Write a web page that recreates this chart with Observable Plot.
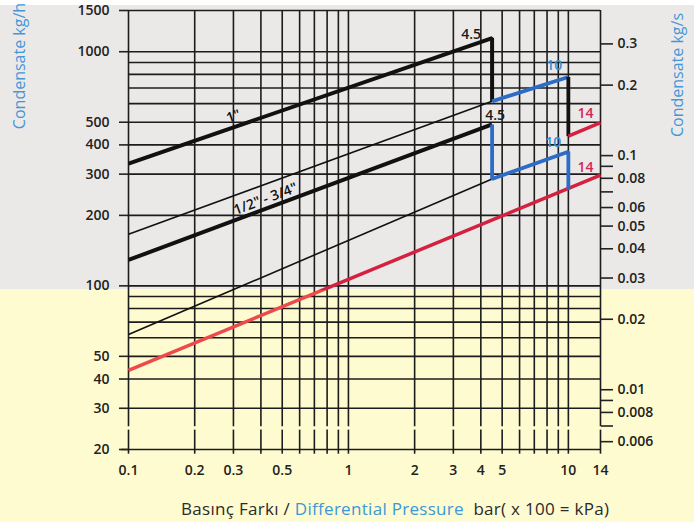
<!DOCTYPE html>
<html>
<head>
<meta charset="utf-8">
<script src="https://cdn.jsdelivr.net/npm/d3@7"></script>
<script src="https://cdn.jsdelivr.net/npm/@observablehq/plot@0.6"></script>
<style>
  html, body { margin: 0; padding: 0; }
  body {
    width: 694px; height: 522px; overflow: hidden; position: relative;
    background: linear-gradient(to bottom, #ffffff 0px, #ffffff 5px, #ebe9e8 5px, #ebe9e8 289px, #fefbd0 289px, #fefbd0 100%);
    font-family: "Open Sans", sans-serif;
  }
  #chart { position: absolute; left: 0; top: 0; }
  #caption {
    position: absolute; left: 181px; top: 497px; white-space: pre;
    font-size: 17px; letter-spacing: 0.3px; line-height: 24px; color: #2b2b2b;
  }
  .blue { color: #3a98d8; }
  .ytitle {
    position: absolute; width: 200px; height: 22px; line-height: 22px; text-align: center;
    font-size: 16px; color: #4596d6; transform: rotate(-90deg); transform-origin: 50% 50%; white-space: nowrap;
  }
</style>
</head>
<body>
<div id="chart"></div>
<div class="ytitle" style="left:-81px; top:55px;">Condensate kg/h</div>
<div class="ytitle" style="left:577px; top:64px;">Condensate kg/s</div>
<div id="caption">Basınç Farkı / <span class="blue">Differential Pressure</span>  bar( x 100 = kPa)</div>
<script>
// ---- scale / tick data ----
const xGridValues = [0.1, 0.2, 0.3, 0.4, 0.5, 0.6, 0.7, 0.8, 0.9, 1, 2, 3, 4, 5, 6, 7, 8, 9, 10, 14];
const xTickLabels = [0.1, 0.2, 0.3, 0.5, 1, 2, 3, 4, 5, 10, 14];
const yGridValues = [1500, 1000, 900, 800, 700, 600, 500, 400, 300, 200, 100, 90, 80, 70, 60, 50, 40, 30];
const yTickLabels = [1500, 1000, 500, 400, 300, 200, 100, 50, 40, 30, 20];
const kgsLabels = ["0.3", "0.2", "0.1", "0.08", "0.06", "0.05", "0.04", "0.03", "0.02", "0.01", "0.008", "0.006"];
const kgsMinor = [0.09, 0.07, 0.009, 0.007];
const secondsPerHour = 3600;

// ---- curves: differential pressure (bar) vs condensate (kg/h) ----
const oneInchP = [0.1, 4.5, 4.5];
const oneInchQ = [333, 1143, 614];
const oneInch10P = [4.5, 10];
const oneInch10Q = [614, 780];
const oneInchDropP = [10, 10];
const oneInchDropQ = [780, 436];
const oneInch14P = [10, 14];
const oneInch14Q = [436, 498];

const halfInchP = [0.1, 4.5];
const halfInchQ = [129, 489];
const halfInch10P = [4.5, 4.5, 10, 10];
const halfInch10Q = [489, 286, 374, 258];

const thinUpperP = [0.1, 4.5];
const thinUpperQ = [166, 614];
const thinLowerP = [0.1, 4.5];
const thinLowerQ = [62, 286];

const redLongP = [0.1, 14];
const redLongQ = [43.6, 297];

// label anchors
const oneInchLabel = {p: 0.3, q: 475, text: "1\""};
const halfInchLabel = {p: 0.42, q: 213, text: "1/2\" - 3/4\""};

const pts = (P, Q) => P.map((p, i) => ({p, q: Q[i]}));

const BLACK = "#111111", BLUE = "#2d6cc6", RED = "#d4213f", CORAL = "#ee4a4c";
const GRID = "#1c1c1c";
const LBLUE = "#3b8fd8", LRED = "#d6245a";

const kgsRows = kgsLabels.map(s => ({label: s, q: (+s) * secondsPerHour}));
const kgsTickValues = kgsRows.map(r => r.q).concat(kgsMinor.map(v => v * secondsPerHour));

const lineOpts = (stroke, w) => ({x: "p", y: "q", stroke, strokeWidth: w, strokeLinejoin: "miter", strokeLinecap: "butt"});

const endLabel = (P, Q, i, text, fill, dx, dy) =>
  Plot.text([{p: P[i], q: Q[i], text}], {x: "p", y: "q", text: "text", fill, dx, dy, fontSize: 14, fontWeight: 600, textAnchor: "middle"});

// gradient definition: crimson in the grey band, coral in the yellow band
const redDefs = () => {
  const svg = d3.create("svg:defs");
  const g = svg.append("linearGradient").attr("id", "redSplit").attr("gradientUnits", "userSpaceOnUse")
    .attr("x1", 0).attr("y1", 0).attr("x2", 0).attr("y2", 490);
  g.append("stop").attr("offset", 0).attr("stop-color", RED);
  g.append("stop").attr("offset", 289 / 490).attr("stop-color", RED);
  g.append("stop").attr("offset", 289 / 490).attr("stop-color", CORAL);
  g.append("stop").attr("offset", 1).attr("stop-color", CORAL);
  return svg.node();
};

const chart = Plot.plot({
  width: 694,
  height: 490,
  marginLeft: 128,
  marginRight: 94,
  marginTop: 10,
  marginBottom: 41,
  x: {type: "log", domain: [0.1, 14]},
  y: {type: "log", domain: [20, 1500]},
  style: {background: "transparent", fontFamily: "'Open Sans', sans-serif", fontSize: "14px", color: "#222"},
  marks: [
    redDefs,
    // grid
    Plot.ruleX(xGridValues, {x: d => d, y1: 25, y2: 1500, stroke: GRID, strokeWidth: 1.6}),
    Plot.ruleY(yGridValues, {y: d => d, x1: 0.1, x2: 14, stroke: GRID, strokeWidth: 1.6}),
    // x axis line and ticks
    Plot.ruleY([20], {y: d => d, x1: 0.093, x2: 14, stroke: GRID, strokeWidth: 1.6}),
    Plot.ruleX(xGridValues, {x: d => d, y1: 19.1, y2: 24.2, stroke: GRID, strokeWidth: 1.6}),
    Plot.axisX({ticks: xTickLabels, tickSize: 0, tickPadding: 16, tickFormat: d => String(d), label: null, fontWeight: 600, fontSize: 14}),
    Plot.axisY({anchor: "left", ticks: yTickLabels, tickSize: 9, tickPadding: 10, tickFormat: d => String(d), label: null, fontWeight: 600, fontSize: 14, strokeWidth: 1.6}),
    // right (kg/s) axis: ticks and labels
    Plot.axisY({anchor: "right", ticks: kgsTickValues, tickSize: 12, tickFormat: () => "", label: null, strokeWidth: 1.6}),
    Plot.text(kgsRows, {x: 14, y: "q", text: "label", dx: 17, textAnchor: "start", fontSize: 14, fontWeight: 600, fill: "#222"}),
    // thin lines
    Plot.line(pts(thinUpperP, thinUpperQ), lineOpts(BLACK, 1.6)),
    Plot.line(pts(thinLowerP, thinLowerQ), lineOpts(BLACK, 1.6)),
    // red long
    Plot.line(pts(redLongP, redLongQ), lineOpts("url(#redSplit)", 3.5)),
    // 1 inch
    Plot.line(pts(oneInchP, oneInchQ), lineOpts(BLACK, 4)),
    Plot.line(pts(oneInch10P, oneInch10Q), lineOpts(BLUE, 3.8)),
    Plot.line(pts(oneInchDropP, oneInchDropQ), lineOpts(BLACK, 3.8)),
    Plot.line(pts(oneInch14P, oneInch14Q), lineOpts(RED, 3.5)),
    // 1/2 - 3/4 inch
    Plot.line(pts(halfInchP, halfInchQ), lineOpts(BLACK, 4)),
    Plot.line(pts(halfInch10P, halfInch10Q), lineOpts(BLUE, 3.8)),
    // end labels
    endLabel(oneInchP, oneInchQ, 1, "4.5", "#1a1a1a", -21, -4),
    endLabel(halfInchP, halfInchQ, 1, "4.5", "#1a1a1a", 3, -9),
    endLabel(oneInch10P, oneInch10Q, 1, "10", LBLUE, -14, -11),
    endLabel(halfInch10P, halfInch10Q, 2, "10", LBLUE, -15, -9),
    endLabel(oneInch14P, oneInch14Q, 1, "14", LRED, -15, -9),
    endLabel(redLongP, redLongQ, 1, "14", LRED, -15, -8),
    // size labels along lines
    Plot.text([oneInchLabel], {x: "p", y: "q", text: "text", rotate: -19, dy: -11, fontSize: 14, fontWeight: 600, fill: "#111"}),
    Plot.text([halfInchLabel], {x: "p", y: "q", text: "text", rotate: -20.5, dy: -10, fontSize: 14, fontWeight: 600, fill: "#111"})
  ]
});
document.getElementById("chart").appendChild(chart);
</script>
</body>
</html>
